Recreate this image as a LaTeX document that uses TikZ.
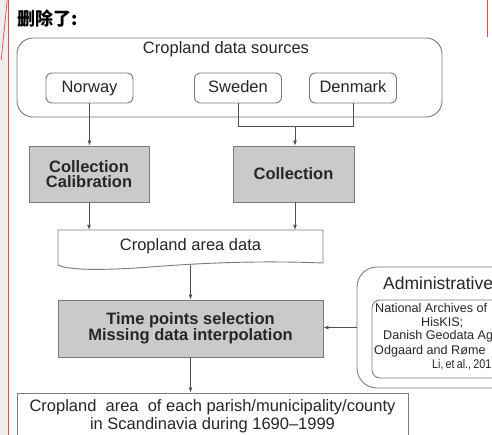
\documentclass[tikz,border=0pt]{standalone}
\usepackage{fontspec}
\setmainfont{Liberation Sans}
\newfontfamily\cjk{Noto Sans CJK SC}
\usetikzlibrary{arrows.meta}
\definecolor{linec}{HTML}{505050}
\definecolor{boxc}{HTML}{7A7A7A}
\definecolor{fillc}{HTML}{CBCAC9}
\definecolor{txt}{HTML}{262626}
\definecolor{marg}{HTML}{EEEEEE}
\definecolor{redl}{HTML}{E24A52}
\newcommand{\fsz}[1]{\fontsize{#1}{#1}\selectfont}
\begin{document}
\begin{tikzpicture}[x=1pt,y=-1pt,
  every node/.style={text=txt, inner sep=0pt},
  frame/.style={draw=boxc, line width=0.9pt},
  srcbox/.style={frame, rounded corners=6pt, minimum width=87pt, minimum height=30pt, text height=12pt, text depth=3.5pt, font=\fsz{16.5}},
  procbox/.style={frame, fill=fillc, font=\fsz{16.5}\bfseries, align=center},
  conn/.style={draw=linec, line width=0.8pt},
  arr/.style={conn, -{Latex[length=5pt,width=4pt]}},
  small/.style={font=\fontsize{12.6}{14.3}\selectfont, anchor=west}
]
\clip (0,0) rectangle (492,435);
\useasboundingbox (0,0) rectangle (492,435);
\fill[white] (0,0) rectangle (492,435);
% page margin
\fill[marg] (0,0) rectangle (8,435);
\draw[redl, line width=0.8pt] (8.6,0) -- (8.6,435);
\draw[redl, line width=0.7pt] (7.2,0) -- (1.2,60);
\draw[redl, line width=0.8pt] (487.5,0) -- (487.5,37);

% title
\node[anchor=west, font=\cjk\bfseries\fontsize{18}{18}\selectfont, text=black] (title) at (17,19) {删除了:};

% sources
\node[frame, rounded corners=16pt, minimum width=425pt, minimum height=79pt] (srcbox) at (229.5,77.5) {};
\node[font=\fsz{16.5}] (srctitle) at (226,49.5) {Cropland data sources};
\node[srcbox] (norway) at (89.5,88) {Norway};
\node[srcbox] (sweden) at (238,88) {Sweden};
\node[srcbox] (denmark) at (353,88) {Denmark};

% processing boxes
\node[procbox, minimum width=120pt, minimum height=56pt] (calib) at (89,174) {Collection\\[-1pt]Calibration};
\node[procbox, minimum width=121pt, minimum height=56pt] (coll) at (293.5,174) {Collection};

% cropland area data (document shape)
\node[minimum width=265pt, minimum height=32pt, font=\fsz{16.5}] (area) at (190.5,246) {Cropland area data};
\draw[frame] (58,230) -- (323,230) -- (323,263)
  .. controls (250,260) and (190,264) .. (150,267)
  .. controls (110,270) and (70,271) .. (58,265) -- cycle;
\coordinate (areab) at (190.5,265.5);

% time points
\node[procbox, minimum width=265pt, minimum height=57pt] (time) at (190.5,328.5) {Time points selection\\[-1pt]Missing data interpolation};

% administrative
\node[frame, rounded corners=20pt, minimum width=220pt, minimum height=121pt] (admin) at (467,327.5) {};
\node[font=\fsz{17.5}, anchor=west] (admintitle) at (383,283) {Administrative};
\node[frame, rounded corners=8pt, minimum width=200pt, minimum height=78pt] (inner) at (472,339) {};
\node[small] (l1) at (375,308) {National Archives of};
\node[small] (l2) at (421,322.3) {HisKIS;};
\node[small] (l3) at (383,336.6) {Danish Geodata Ag};
\node[small] (l4) at (374,350.9) {Odgaard and Røme};
\node[small] (l5) at (432,365.2) {\scalebox{0.85}[1]{Li,\hspace{2.6pt}et\hspace{2.6pt}al.,\hspace{2.6pt}201}};

% final
\node[frame, minimum width=391pt, minimum height=80pt] (final) at (212.5,433) {};
\node[font=\fontsize{16.5}{18.5}\selectfont, align=center] (finaltxt) at (212.5,416) {Cropland\ \ area\ \ of each parish/municipality/county\\in Scandinavia during 1690--1999};

% connectors
\draw[arr] (norway.south) -- (calib.north -| norway.south);
\coordinate (join) at (295,126);
\draw[conn] (sweden.south) -- (sweden.south |- join) -- (denmark.south |- join) -- (denmark.south);
\draw[arr] (join) -- (join |- coll.north);
\draw[arr] (calib.south) -- (calib.south |- area.north);
\draw[arr] (join |- coll.south) -- (join |- area.north);
\draw[arr] (areab) -- (areab |- time.north);
\draw[arr] (admin.west) -- (admin.west -| time.east);
\draw[arr] (time.south) -- (time.south |- final.north);
\end{tikzpicture}
\end{document}
